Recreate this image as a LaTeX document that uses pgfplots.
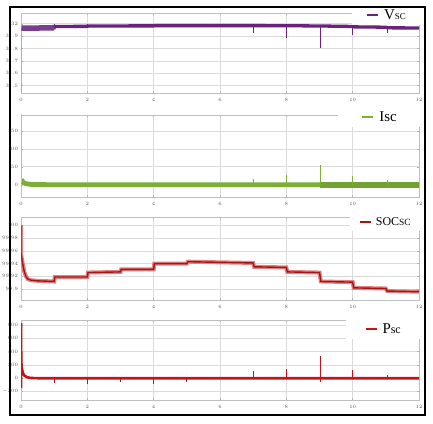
\documentclass[border=0pt]{standalone}
\usepackage{pgfplots}
\pgfplotsset{compat=1.18}
\usepackage{fontspec}
\setmainfont{Liberation Serif}
\definecolor{vsc}{RGB}{105,35,125}
\definecolor{vscl}{RGB}{175,130,190}
\definecolor{isc}{RGB}{125,175,55}
\definecolor{iscl}{RGB}{170,210,120}
\definecolor{socc}{RGB}{165,20,20}
\definecolor{soch}{RGB}{225,130,130}
\definecolor{psc}{RGB}{195,20,25}
\pgfplotsset{
  panel/.style={
    scale only axis, width=398bp, anchor=south west,
    xmin=0, xmax=12, xtick={0,2,...,12},
    grid=major, major grid style={gray!28, line width=0.6bp},
    axis line style={gray!50, line width=0.6bp},
    tick style={gray!60, line width=0.4bp}, major tick length=2bp,
    tick label style={font=\fontsize{5}{5}\selectfont, text=gray!70!black},
    xticklabel style={yshift=-2bp},
    yticklabel style={xshift=0.5bp},
    unbounded coords=jump,
    legend cell align=left,
    legend style={draw=none, fill=white, anchor=east, inner ysep=2bp,
      row sep=0pt},
    legend image code/.code={\draw[##1, line width=2.6bp] (0bp,0bp) -- (11bp,0bp);
      \path (13bp,0bp);},
  }
}
\begin{document}
\begin{tikzpicture}
\useasboundingbox (0,0) rectangle (433bp,424bp);
\fill[white] (0,0) rectangle (433bp,424bp);

% ---------- Vsc ----------
\begin{axis}[panel, at={(21bp,331bp)}, height=80bp,
  ymin=31.44, ymax=32.087, ytick={31.5,31.6,31.7,31.8,31.9,32},
  legend style={at={(1.0075,0.975)}, inner xsep=14bp, font=\fontsize{15}{15}\selectfont}]
\addplot[vsc, line width=3.3bp] coordinates {
 (0.01,31.963) (0.5,31.966) (1,31.968) (1.01,31.978) (2,31.979) (2.01,31.982)
 (4,31.983) (4.01,31.985) (7,31.985) (8,31.984) (9,31.982) (10,31.978)
 (10.02,31.975) (11,31.972) (11.05,31.967) (12,31.966)};
\addlegendentry{V{\fontsize{9}{9}\selectfont SC}}
\addplot[vsc!88, line width=5.5bp, forget plot] coordinates {(0.01,31.964) (1,31.967)};
\addplot[vscl, line width=0.7bp, forget plot] coordinates {(0,31.3) (0,31.995) (0.02,31.96)};
\addplot[vsc, line width=0.8bp, forget plot] coordinates {
 (1,31.97) (1,31.995) (1,nan) (2,31.98) (2,31.996) (2,nan) (4,31.98) (4,31.997) (4,nan)
 (5,31.98) (5,31.995) (5,nan)
 (7,31.985) (7,31.924) (7,nan) (8,31.984) (8,31.888) (8,nan)
 (9.03,31.982) (9.03,31.80) (9.03,nan) (10,31.978) (10,31.91) (10,nan)
 (11.05,31.97) (11.05,31.924)};
\end{axis}

% ---------- Isc ----------
\begin{axis}[panel, at={(21bp,227bp)}, height=82bp,
  ymin=-34, ymax=194, ytick={0,50,100,150},
  legend style={at={(1.0075,0.976)}, inner xsep=23bp, font=\fontsize{15}{15}\selectfont}]
\addplot[isc, line width=4.8bp] coordinates {
 (0.01,15) (0.03,11) (0.08,6) (0.15,3) (0.3,1) (1,0) (12,0)};
\addlegendentry{Isc}
\addplot[isc!92!black, line width=6.3bp, forget plot] coordinates {(9,0) (12,0)};
\addplot[iscl, line width=0.7bp, forget plot] coordinates {(0,200) (0,5)};
\addplot[isc, line width=0.8bp, forget plot] coordinates {
 (7,0) (7,17) (7,nan) (8,0) (8,26) (8,nan) (9.03,0) (9.03,56) (9.03,nan)
 (10,0) (10,23) (10,nan) (11.05,0) (11.05,14)};
\end{axis}

% ---------- SOCsc ----------
\begin{axis}[panel, at={(21bp,124bp)}, height=83bp,
  ymin=99.883, ymax=100.013, ytick={99.9,99.92,99.94,99.96,99.98,100},
  yticklabel style={/pgf/number format/precision=2},
  legend style={at={(1.0075,0.94)}, inner xsep=9bp, font=\fontsize{12}{12}\selectfont}]
\addplot[soch, line width=4bp, forget plot] coordinates {
 (0,100) (0,99.956) (0.05,99.94) (0.1,99.927) (0.15,99.92) (0.2,99.916) (0.3,99.914)
 (0.5,99.913) (1,99.912) (1.02,99.919) (2,99.919) (2.02,99.926) (3,99.927)
 (3.02,99.931) (4,99.931) (4.02,99.940) (5,99.940) (5.03,99.943) (6,99.942) (7,99.941)
 (7.03,99.935) (8,99.934) (8.03,99.927) (9,99.926) (9.04,99.912) (10,99.911)
 (10.03,99.902) (11,99.901) (11.04,99.897) (12,99.896)};
\addplot[socc, line width=1.4bp] coordinates {
 (0,100) (0,99.956) (0.05,99.94) (0.1,99.927) (0.15,99.92) (0.2,99.916) (0.3,99.914)
 (0.5,99.913) (1,99.912) (1.02,99.919) (2,99.919) (2.02,99.926) (3,99.927)
 (3.02,99.931) (4,99.931) (4.02,99.940) (5,99.940) (5.03,99.943) (6,99.942) (7,99.941)
 (7.03,99.935) (8,99.934) (8.03,99.927) (9,99.926) (9.04,99.912) (10,99.911)
 (10.03,99.902) (11,99.901) (11.04,99.897) (12,99.896)};
\addlegendentry{SOC{\fontsize{9.5}{9.5}\selectfont SC}}
\end{axis}

% ---------- Psc ----------
\begin{axis}[panel, at={(21bp,24bp)}, height=80bp,
  ymin=-328, ymax=876, ytick={-200,0,200,400,600,800},
  legend style={at={(1.0075,0.8875)}, inner xsep=19bp, font=\fontsize{15}{15}\selectfont}]
\addplot[psc, line width=2.6bp] coordinates {
 (0,-150) (0,830) (0.008,260) (0.02,170) (0.05,90) (0.1,40) (0.2,12) (0.3,4)
 (0.5,0) (12,0)};
\addlegendentry{P{\fontsize{12}{12}\selectfont sc}}
\addplot[psc, line width=1.1bp, forget plot] coordinates {
 (1,0) (1,-75) (1,nan) (2,0) (2,-90) (2,nan) (3,0) (3,-50) (3,nan)
 (4,0) (4,-90) (4,nan) (5,0) (5,-50) (5,nan)
 (7,0) (7,105) (7,nan) (8,0) (8,145) (8,nan) (9.03,-60) (9.03,330) (9.03,nan)
 (10,0) (10,120) (10,nan) (11.05,0) (11.05,50)};
\end{axis}

\draw[black, line width=1.2bp] (10bp,417bp) rectangle (425bp,9bp);
\end{tikzpicture}
\end{document}
